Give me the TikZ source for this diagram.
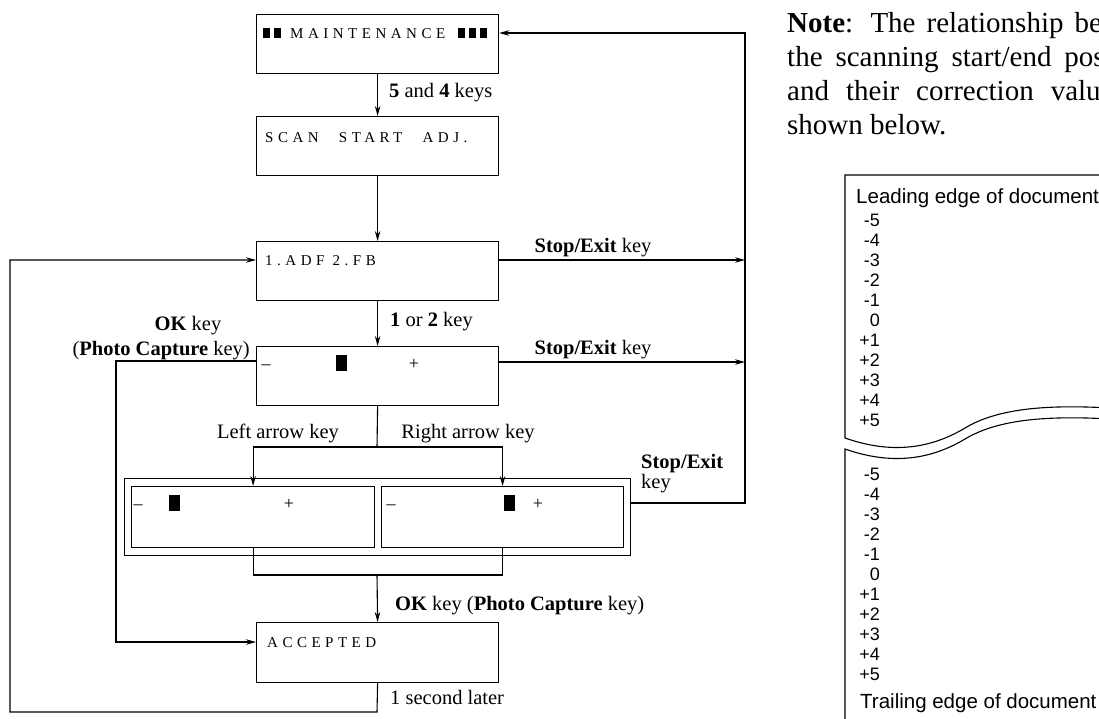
\documentclass[tikz,border=0pt]{standalone}
\usepackage{fontspec}
\setmainfont{Liberation Serif}
\newfontfamily\arialf{Liberation Sans}
\newfontfamily\lcdf[LetterSpace=30]{Liberation Serif}
\usetikzlibrary{arrows.meta}
\newcommand{\fsz}[1]{\fontsize{#1}{#1}\selectfont}
\begin{document}
\begin{tikzpicture}[x=1pt,y=-1pt,
  box/.style={draw, line width=1.2pt, anchor=north west, inner sep=0pt, minimum width=242pt, minimum height=59pt},
  ibox/.style={draw, line width=1.2pt, anchor=north west, inner sep=0pt, minimum width=243pt, minimum height=61pt},
  arr/.style={line width=1.1pt, -{Stealth[length=10pt,width=5.5pt]}},
  con/.style={line width=1.1pt},
  lbl/.style={inner sep=0pt, font=\fsz{20.5}},
  lcd/.style={inner sep=0pt, anchor=base west, font=\lcdf\fsz{15}},
  sym/.style={inner sep=0pt, anchor=base, font=\fsz{18}},
  num/.style={inner sep=0pt, anchor=base east, font=\arialf\fsz{18}},
  hdr/.style={inner sep=0pt, anchor=base west, font=\arialf\fsz{20.5}},
  note/.style={inner sep=0pt, anchor=base west, font=\fsz{29}},
]
\useasboundingbox (0,0) rectangle (1099,718);
\fill[white] (0,0) rectangle (1099,718);

% ---------- boxes ----------
\node[box] (m) at (256,14) {};
\node[box] (s) at (256,116) {};
\node[box] (b3) at (256,241) {};
\node[box] (b4) at (256,346) {};
\node[draw, line width=1.2pt, anchor=north west, inner sep=0pt, minimum width=506pt, minimum height=77pt] (outer) at (124,478) {};
\node[ibox] (in1) at (131,486) {};
\node[ibox, minimum width=242pt] (in2) at (381,486) {};
\node[box, minimum height=60pt] (acc) at (256,622) {};

% ---------- display texts ----------
\fill (263,28) rectangle (270,38);
\fill (274,28) rectangle (281,38);
\node[lcd] (mt) at (290,38) {MAINTENANCE};
\fill (458,28) rectangle (465,38);
\fill (469,28) rectangle (476,38);
\fill (480,28) rectangle (487,38);
\node[lcd] (st) at (265,142) {SCAN\hspace{12pt} START\hspace{12pt} ADJ.};
\node[lcd] (b3t) at (265,265) {1.ADF 2.FB};
\node[sym] (b4m) at (266,369) {\textendash};
\fill (336,355) rectangle (347,371);
\node[sym] (b4p) at (414,369) {+};
\node[sym] (i1m) at (138,509) {\textendash};
\fill (169,495) rectangle (180,511);
\node[sym] (i1p) at (289,509) {+};
\node[sym] (i2m) at (391,509) {\textendash};
\fill (504,495) rectangle (515,511);
\node[sym] (i2p) at (538,509) {+};
\node[lcd] (acct) at (267,647) {ACCEPTED};

% ---------- connectors ----------
\draw[arr] (m.south) -- (s.north);
\draw[arr] (s.south) -- (b3.north);
\draw[arr] (b3.south) -- (b4.north);
\coordinate (split) at (377,447);
\draw[con] (b4.south) -- (split);
\draw[arr] (split) -| (in1.north);
\draw[arr] (split) -| (in2.north);
\coordinate (merge) at (377,575);
\draw[con] (in1.south) |- (merge) -| (in2.south);
\draw[arr] (merge) -- (acc.north);

\coordinate (okA) at (116,361);
\coordinate (okB) at (116,642);
\draw[arr] (okA -| b4.west) -- (okA) -- (okB) -- (okB -| acc.west);

\coordinate (lpA) at (377,712);
\coordinate (lpB) at (10,712);
\coordinate (lpC) at (10,260);
\draw[arr] (acc.south) -- (lpA) -- (lpB) -- (lpC) -- (lpC -| b3.west);

\coordinate (se1) at (745,260);
\coordinate (se2) at (745,362);
\coordinate (se3) at (745,503);
\coordinate (se0) at (745,33);
\draw[arr] (se1 -| b3.east) -- (se1);
\draw[arr] (se2 -| b4.east) -- (se2);
\draw[arr] (se3 -| outer.east) -- (se3) -- (se0) -- (se0 -| m.east);

% ---------- labels ----------
\node[lbl, anchor=base west] (l54) at (389,97) {\textbf{5} and \textbf{4} keys};
\node[lbl, anchor=base west] (l12) at (390,326) {\textbf{1} or \textbf{2} key};
\node[lbl, anchor=base] (lok) at (188,330) {\textbf{OK} key};
\node[lbl, anchor=base east] (lpc) at (250,355) {(\textbf{Photo Capture} key)};
\node[lbl, anchor=base] (lse1) at (593,252) {\textbf{Stop/Exit} key};
\node[lbl, anchor=base] (lse2) at (593,354) {\textbf{Stop/Exit} key};
\node[lbl, anchor=base] (lla) at (278,438) {Left arrow key};
\node[lbl, anchor=base] (lra) at (468,438) {Right arrow key};
\node[inner sep=0pt, anchor=north west, align=left, font={\fontsize{20.5}{18.5}\selectfont}] (lse3) at (641,454) {\textbf{Stop/Exit}\\key};
\node[lbl, anchor=base west] (lok2) at (395,610) {\textbf{OK} key (\textbf{Photo Capture} key)};
\node[lbl, anchor=base west] (l1s) at (390,704) {1 second later};

% ---------- right panel ----------
\begin{scope}
\clip (0,0) rectangle (1099,718);
\node[note] (n1) at (787,32) {\makebox[384pt][s]{\textbf{Note}: The relationship between}};
\node[note] (n2) at (787,66) {\makebox[382pt][s]{the scanning start/end positions}};
\node[note] (n3) at (787,100) {\makebox[374pt][s]{and their correction values is}};
\node[note] (n4) at (787,134) {shown below.};
\draw[line width=1.1pt] (1110,175) -- (845,175) -- (845,438)
  .. controls (885,452) and (925,452) .. (965,428)
  .. controls (995,410) and (1040,404) .. (1110,408);
\draw[line width=1.1pt] (845,730) -- (845,449)
  .. controls (885,463) and (925,463) .. (965,439)
  .. controls (995,421) and (1040,415) .. (1110,419);
\node[hdr] (lead) at (856,203) {Leading edge of document};
\foreach \v [count=\i from 0] in {-5,-4,-3,-2,-1,0,+1,+2,+3,+4,+5}
  \node[num] (u\i) at (880,226+20*\i) {\v};
\foreach \v [count=\i from 0] in {-5,-4,-3,-2,-1,0,+1,+2,+3,+4,+5}
  \node[num] (w\i) at (880,480+20*\i) {\v};
\node[hdr] (trail) at (860,708) {Trailing edge of document};
\end{scope}
\end{tikzpicture}
\end{document}
